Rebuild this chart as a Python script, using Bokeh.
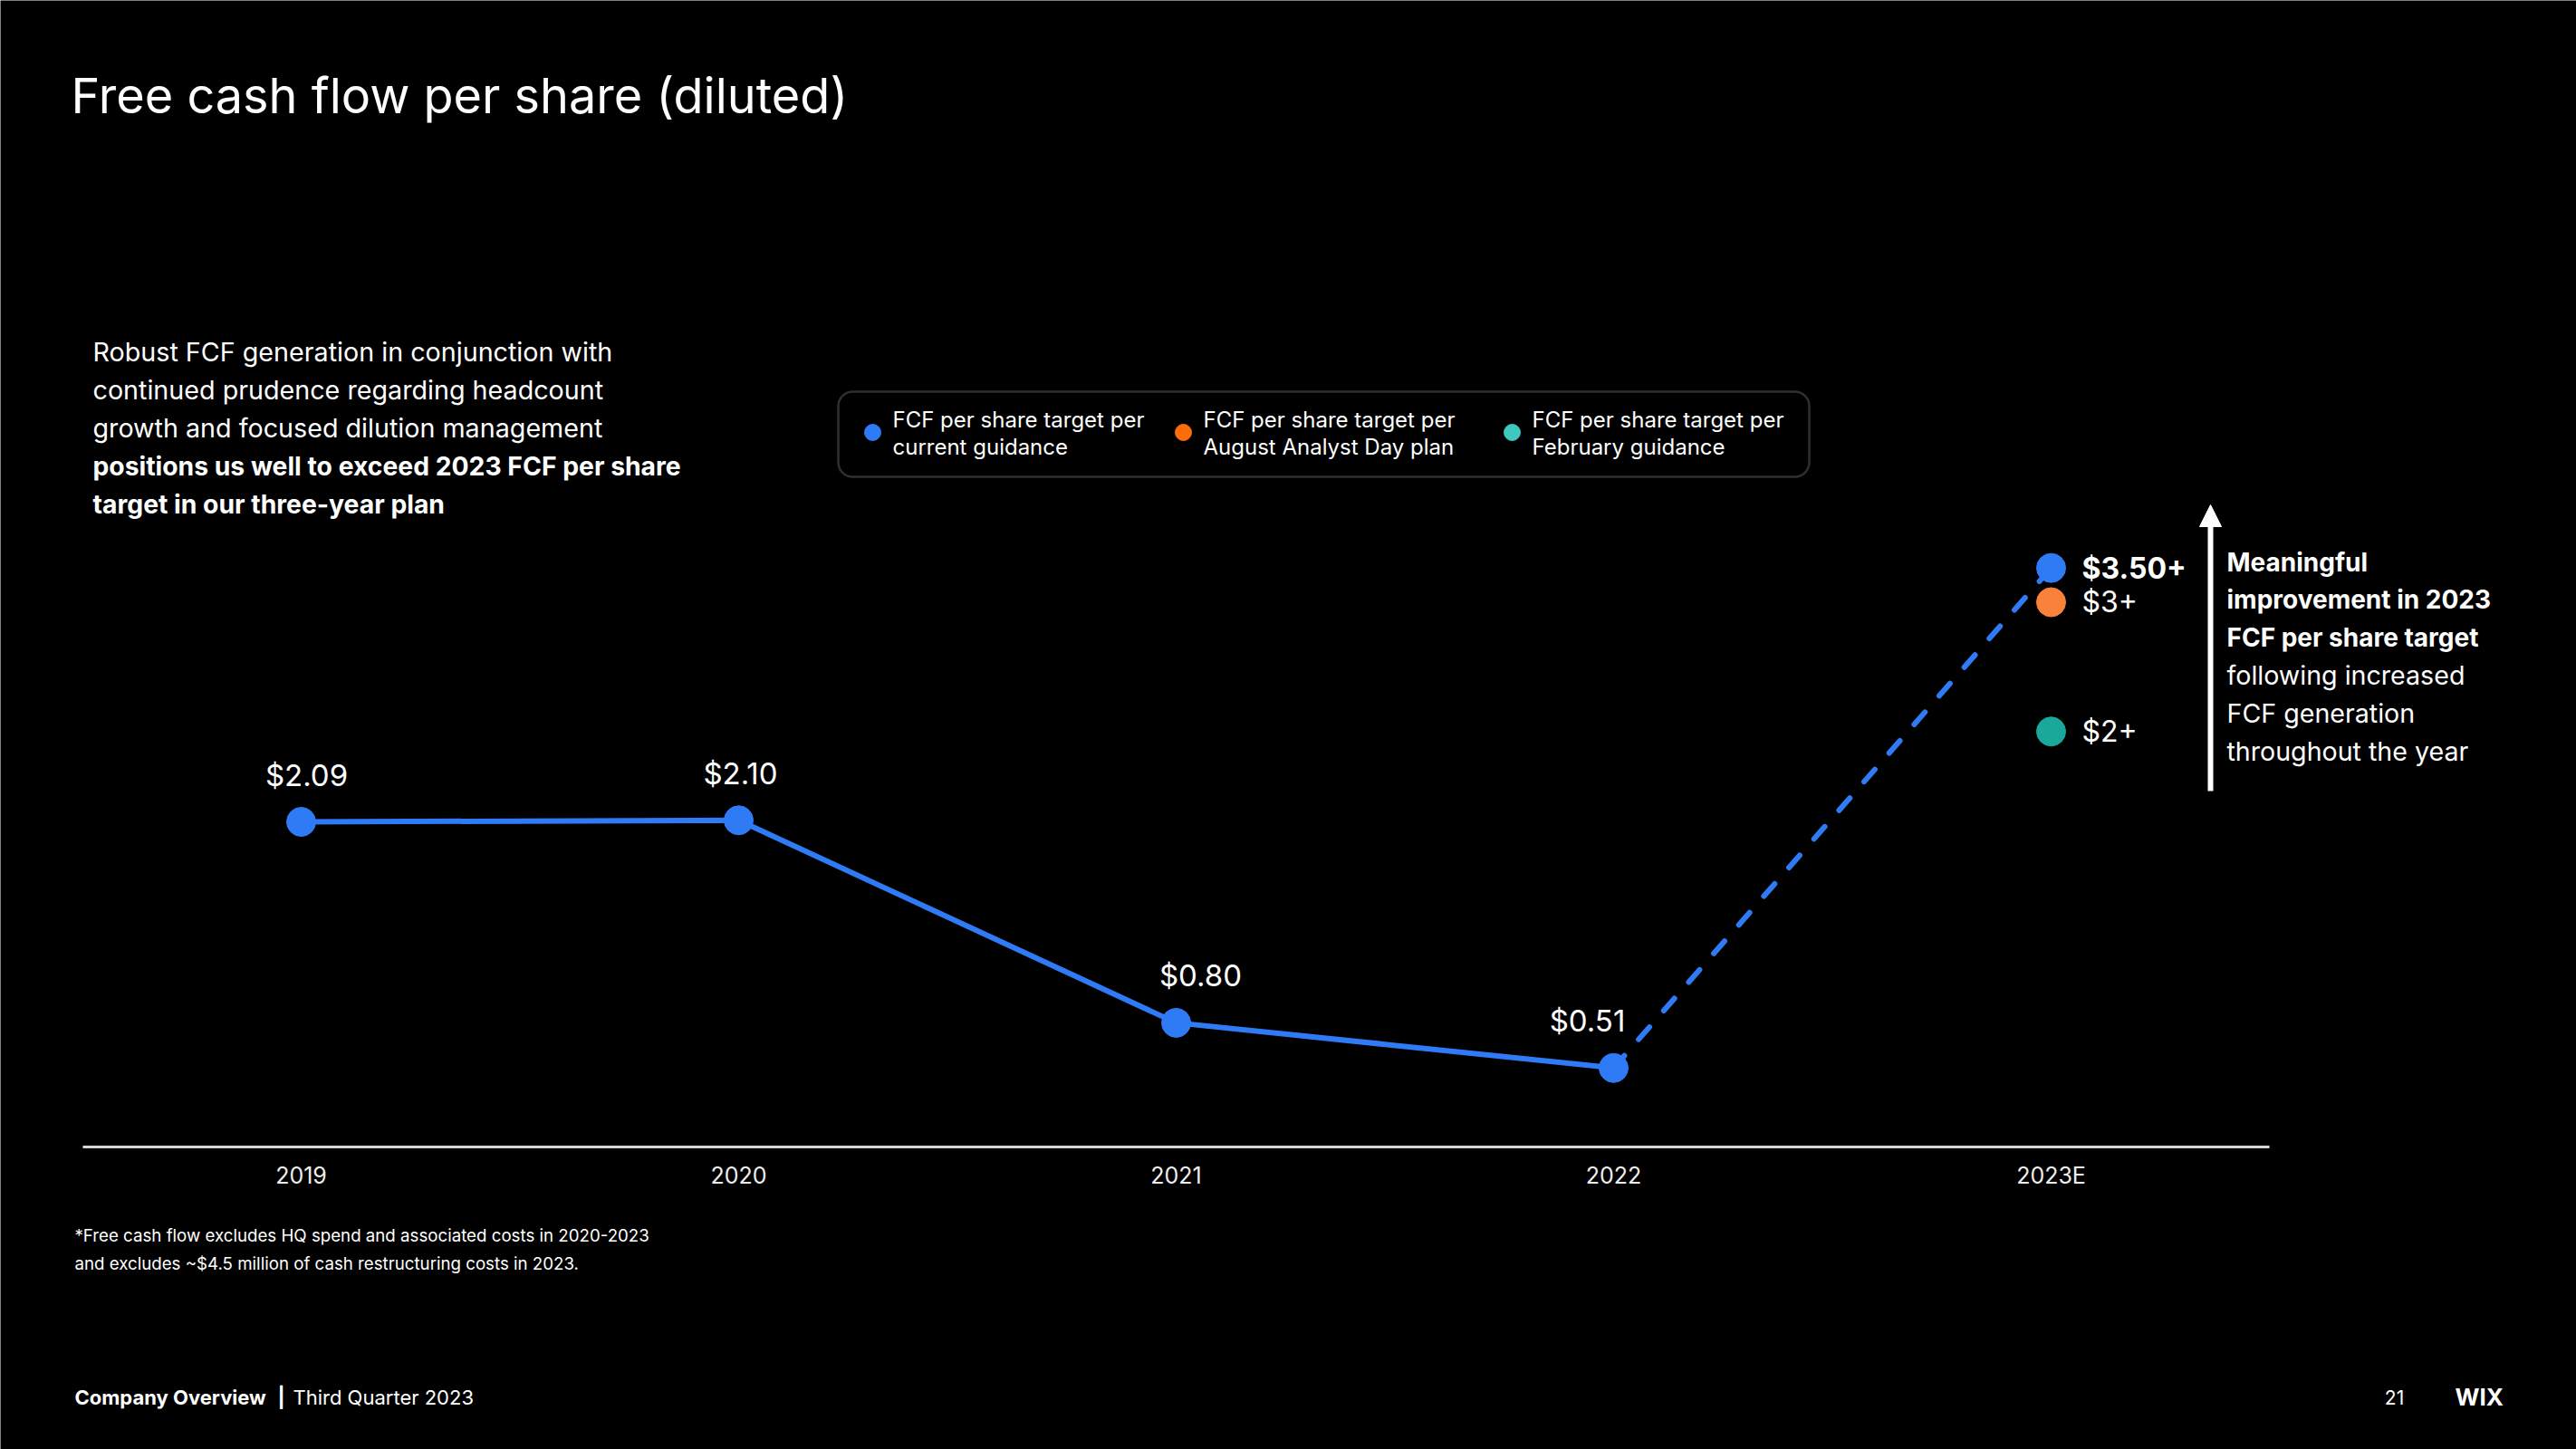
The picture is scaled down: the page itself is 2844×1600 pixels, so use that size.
from bokeh.plotting import figure
from bokeh.models import Range1d, ColumnDataSource, Arrow, NormalHead, BoxAnnotation
from bokeh.core.properties import value
from bokeh.embed import file_html
from bokeh.resources import INLINE

# ---------------- data ----------------
years = ["2019", "2020", "2021", "2022", "2023E"]
fcf_actual = [2.09, 2.10, 0.80, 0.51]
actual_labels = ["$2.09", "$2.10", "$0.80", "$0.51"]
target_labels = ["$3.50+", "$3+", "$2+"]
# vertical placement of the 2023E targets as drawn on the slide (not to scale)
target_plot_pos = [3.72, 3.50, 2.67]
legend_names = [
    ["FCF per share target per", "current guidance"],
    ["FCF per share target per", "August Analyst Day plan"],
    ["FCF per share target per", "February guidance"],
]

# ---------------- layout helpers ----------------
W, H = 2844, 1600
X_PX0, X_STEP = 332, 483          # pixel of first category, pixels per category
Y_PX_REF, Y_REF, Y_SCALE = 907, 2.09, 172.0   # pixel of the reference value, px per $

def X(px):
    return (px - X_PX0) / X_STEP

def Y(py):
    return Y_REF + (Y_PX_REF - py) / Y_SCALE

BLUE = "#2f7bf6"
ORANGE = "#f9813a"
TEAL = "#1aa89b"
LEG_COLORS = ["#2f7bf6", "#ff6d0a", "#3fc8bf"]
FONT = "Inter"

p = figure(width=W, height=H,
           x_range=Range1d(X(0), X(W)), y_range=Range1d(Y(H), Y(0)),
           x_axis_location=None, y_axis_location=None,
           toolbar_location=None, output_backend="svg", min_border=0,
           background_fill_color="black", border_fill_color="black",
           outline_line_color=None)
p.grid.grid_line_color = None


def txt(px, py, s, size, bold=False, align="left", color="white"):
    src = ColumnDataSource(dict(x=[X(px)], y=[Y(py)], t=[s]))
    p.text(x="x", y="y", text="t", source=src, text_font=value(FONT),
           text_font_size=f"{size}px", text_font_style="bold" if bold else "normal",
           text_color=color, text_align=align, text_baseline="middle")


# title
txt(78, 105, "Free cash flow per share (diluted)", 54)

# left commentary
left_lines = [
    ("Robust FCF generation in conjunction with", False),
    ("continued prudence regarding headcount", False),
    ("growth and focused dilution management", False),
    ("positions us well to exceed 2023 FCF per share", True),
    ("target in our three-year plan", True),
]
for i, (s, b) in enumerate(left_lines):
    txt(102, 388 + i * 42, s, 28.7 if not b else 28.3, bold=b)

# legend box
p.add_layout(BoxAnnotation(left=X(925), right=X(1997), top=Y(432), bottom=Y(526),
                           fill_color=None, line_color="#9a9a9a", line_width=2.5,
                           border_radius=16))
leg_dot_px = [963, 1306, 1669]
for i, names in enumerate(legend_names):
    p.scatter(x=[X(leg_dot_px[i])], y=[Y(477)], size=18, color=LEG_COLORS[i])
    txt(leg_dot_px[i] + 22, 463, names[0], 24)
    txt(leg_dot_px[i] + 22, 493, names[1], 24)

# axis line and category labels
p.segment(x0=[X(91)], y0=[Y(1266)], x1=[X(2505)], y1=[Y(1266)],
          line_color="#d6d6d6", line_width=3)
cat_src = ColumnDataSource(dict(x=list(range(len(years))), y=[Y(1297)] * len(years), t=years))
p.text(x="x", y="y", text="t", source=cat_src, text_font=value(FONT),
       text_font_size="25px", text_color="#eeeeee", text_align="center",
       text_baseline="middle")

# lines
xs = list(range(len(fcf_actual)))
p.line(x=[xs[-1], len(years) - 1], y=[fcf_actual[-1], target_plot_pos[0]],
       line_color=BLUE, line_width=6, line_dash="18 24", line_cap="round")
p.line(x=xs, y=fcf_actual, line_color=BLUE, line_width=6)
p.scatter(x=xs, y=fcf_actual, size=32, color=BLUE)

lab_src = ColumnDataSource(dict(x=xs, y=fcf_actual, t=actual_labels, dx=[6, 2, 27, -29]))
p.text(x="x", y="y", text="t", source=lab_src, text_font=value(FONT),
       text_font_size="33px", text_color="white", text_align="center",
       text_baseline="middle", x_offset="dx", y_offset=-52)

# 2023E targets
tx = [len(years) - 1] * len(target_plot_pos)
p.scatter(x=tx, y=target_plot_pos, size=32, color=[BLUE, ORANGE, TEAL])
for i, (lab, ypos) in enumerate(zip(target_labels, target_plot_pos)):
    src = ColumnDataSource(dict(x=[tx[i]], y=[ypos], t=[lab]))
    p.text(x="x", y="y", text="t", source=src, text_font=value(FONT),
           text_font_size="32px", text_font_style="bold" if i == 0 else "normal",
           text_color="white", text_align="left", text_baseline="middle",
           x_offset=34)

# arrow + annotation
p.add_layout(Arrow(end=NormalHead(size=24, fill_color="white", line_color="white"),
                   x_start=X(2440), y_start=Y(873), x_end=X(2440), y_end=Y(557),
                   line_color="white", line_width=6))
ann_lines = [
    ("Meaningful", True),
    ("improvement in 2023", True),
    ("FCF per share target", True),
    ("following increased", False),
    ("FCF generation", False),
    ("throughout the year", False),
]
for i, (s, b) in enumerate(ann_lines):
    txt(2458, 620 + i * 41.8, s, 28 if b else 28.6, bold=b)

# footnote
txt(82, 1364, "*Free cash flow excludes HQ spend and associated costs in 2020-2023", 18.7)
txt(82, 1395, "and excludes ~$4.5 million of cash restructuring costs in 2023.", 18.7)

# footer
txt(82, 1542, "Company Overview", 22, bold=True)
txt(306, 1542, "|", 22, bold=True)
txt(323, 1542, "Third Quarter 2023", 22)
txt(2643, 1542, "21", 21, align="center")
txt(2710, 1542, "WIX", 26, bold=True)

open("out.html", "w").write(file_html(p, INLINE))
